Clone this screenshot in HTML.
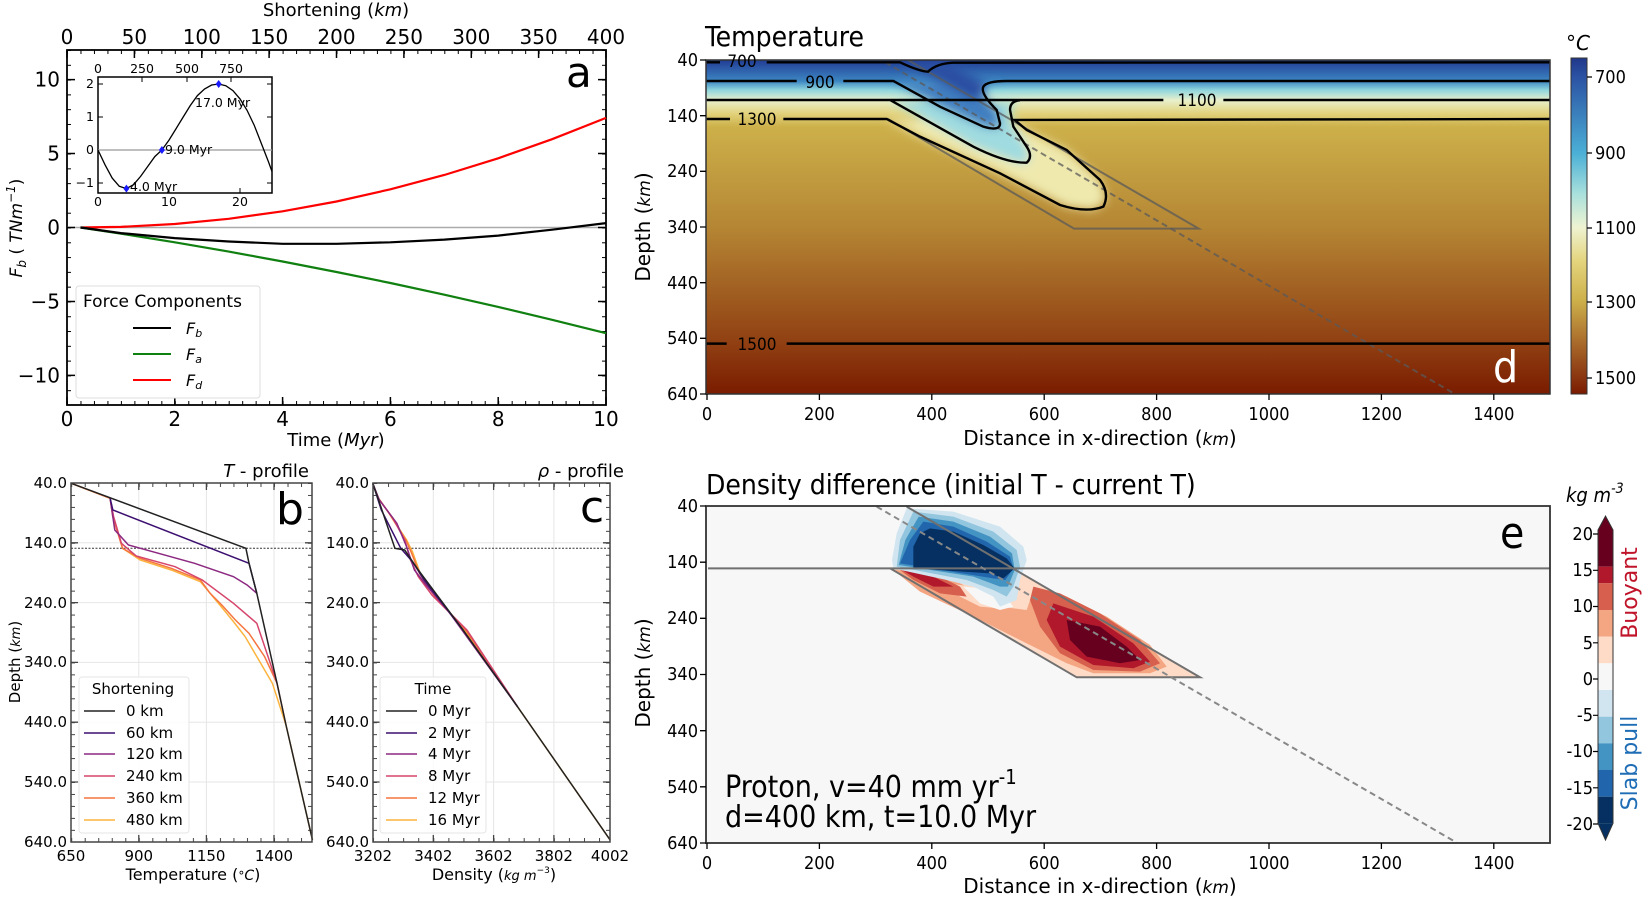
<!DOCTYPE html>
<html><head><meta charset="utf-8"><style>
html,body{margin:0;padding:0;background:#fff;}
svg{display:block;font-family:"DejaVu Sans","Liberation Sans",sans-serif;}
.c{font-family:"DejaVu Sans Condensed","Liberation Sans Narrow","DejaVu Sans",sans-serif;}
</style></head><body>
<svg width="1645" height="897" viewBox="0 0 1645 897" xmlns="http://www.w3.org/2000/svg">
<defs>
<pattern id="mbA" x="67" y="0" width="13.475" height="10" patternUnits="userSpaceOnUse"><rect width="1" height="10" fill="#000"/></pattern>
<pattern id="mtA" x="67" y="0" width="13.475" height="10" patternUnits="userSpaceOnUse"><rect width="1" height="10" fill="#000"/></pattern>
<pattern id="mlA" x="0" y="227.5" width="10" height="14.79" patternUnits="userSpaceOnUse"><rect width="10" height="1" fill="#000"/></pattern>
<pattern id="mlB" x="0" y="483" width="10" height="11.96" patternUnits="userSpaceOnUse"><rect width="10" height="1" fill="#444"/></pattern>
<pattern id="mbB" x="71.2" y="0" width="13.52" height="10" patternUnits="userSpaceOnUse"><rect width="1" height="10" fill="#444"/></pattern>
<pattern id="mbC" x="373" y="0" width="15.07" height="10" patternUnits="userSpaceOnUse"><rect width="1" height="10" fill="#444"/></pattern>
<linearGradient id="gT" x1="0" y1="60" x2="0" y2="394" gradientUnits="userSpaceOnUse">
<stop offset="0" stop-color="#1f3a8e"/><stop offset="0.006" stop-color="#24449a"/>
<stop offset="0.063" stop-color="#3c86c2"/><stop offset="0.09" stop-color="#8fd6de"/>
<stop offset="0.12" stop-color="#e8f0cc"/><stop offset="0.16" stop-color="#e2d27c"/>
<stop offset="0.2" stop-color="#cdb04a"/><stop offset="0.5" stop-color="#b58634"/>
<stop offset="0.85" stop-color="#903f12"/><stop offset="1" stop-color="#7a1c00"/>
</linearGradient>
<linearGradient id="gCB" x1="0" y1="60" x2="0" y2="394" gradientUnits="userSpaceOnUse">
<stop offset="0" stop-color="#223a8c"/><stop offset="0.05" stop-color="#2b52a3"/>
<stop offset="0.28" stop-color="#4bb0d6"/><stop offset="0.4" stop-color="#a8e0dc"/>
<stop offset="0.5" stop-color="#eef3d2"/><stop offset="0.6" stop-color="#e4d57e"/>
<stop offset="0.72" stop-color="#cdb04a"/><stop offset="0.85" stop-color="#a8692a"/>
<stop offset="0.95" stop-color="#8a3510"/><stop offset="1" stop-color="#7a1a00"/>
</linearGradient>
<filter id="bl" filterUnits="userSpaceOnUse" x="700" y="50" width="860" height="350"><feGaussianBlur stdDeviation="5"/></filter>
</defs>

<!-- ================= PANEL A ================= -->
<rect x="67" y="50" width="539" height="355" fill="#fff" stroke="#000" stroke-width="1.8"/>
<line x1="67" y1="227.5" x2="606" y2="227.5" stroke="#aaa" stroke-width="1.5"/>
<rect x="67" y="401" width="539" height="4" fill="url(#mbA)"/>
<rect x="67" y="50" width="539" height="4" fill="url(#mtA)"/>
<rect x="67" y="50" width="4" height="355" fill="url(#mlA)"/>
<rect x="602" y="50" width="4" height="355" fill="url(#mlA)"/>
<g stroke="#000" stroke-width="1.5">
<path d="M67 405v-8M174.8 405v-8M282.6 405v-8M390.4 405v-8M498.2 405v-8M606 405v-8"/>
<path d="M67 50v8M134.4 50v8M201.8 50v8M269.1 50v8M336.5 50v8M403.9 50v8M471.3 50v8M538.6 50v8M606 50v8"/>
<path d="M67 79.6h8M67 153.5h8M67 227.5h8M67 301.5h8M67 375.4h8M606 79.6h-8M606 153.5h-8M606 227.5h-8M606 301.5h-8M606 375.4h-8"/>
</g>
<g font-size="20" fill="#000" text-anchor="middle">
<text x="67" y="426">0</text><text x="174.8" y="426">2</text><text x="282.6" y="426">4</text><text x="390.4" y="426">6</text><text x="498.2" y="426">8</text><text x="606" y="426">10</text>
<text x="67" y="44">0</text><text x="134.4" y="44">50</text><text x="201.8" y="44">100</text><text x="269.1" y="44">150</text><text x="336.5" y="44">200</text><text x="403.9" y="44">250</text><text x="471.3" y="44">300</text><text x="538.6" y="44">350</text><text x="606" y="44">400</text>
<text x="336" y="446" font-size="18">Time (<tspan font-style="italic">Myr</tspan>)</text>
<text x="336" y="16" font-size="18">Shortening (<tspan font-style="italic">km</tspan>)</text>
</g>
<g font-size="20" text-anchor="end">
<text x="60" y="86.6">10</text><text x="60" y="160.5">5</text><text x="60" y="234.5">0</text><text x="60" y="308.5">−5</text><text x="60" y="382.4">−10</text>
</g>
<text transform="translate(22,228) rotate(-90)" font-size="17" text-anchor="middle" font-style="italic">F<tspan font-size="12" dy="4">b</tspan><tspan dy="-4" font-style="normal"> ( </tspan>TNm<tspan font-size="12" dy="-7">−1</tspan><tspan dy="7" font-style="normal">)</tspan></text>
<polyline fill="none" stroke="#f00" stroke-width="2.2" points="80.5,227.5 120.9,226.9 174.8,224 228.7,218.8 282.6,211.3 336.5,201.5 390.4,189.3 444.3,175 498.2,158.3 552.1,139.2 606,117.9"/>
<polyline fill="none" stroke="#108010" stroke-width="2.2" points="80.5,227.5 120.9,233.6 174.8,242.3 228.7,251.6 282.6,261.5 336.5,272 390.4,283 444.3,294.7 498.2,306.9 552.1,319.8 606,333.2"/>
<polyline fill="none" stroke="#000" stroke-width="2.2" points="80.5,227.5 120.9,233.1 174.8,238.1 228.7,241.5 282.6,243.8 336.5,243.8 390.4,242.3 444.3,239.6 498.2,235.6 552.1,229.7 606,223.1"/>
<text x="566" y="87" font-size="42">a</text>
<rect x="76" y="286" width="184" height="112" rx="3" fill="#fff" stroke="#ddd"/>
<text x="83" y="307" font-size="17">Force Components</text>
<line x1="133" y1="328" x2="171" y2="328" stroke="#000" stroke-width="2"/>
<line x1="133" y1="354" x2="171" y2="354" stroke="#108010" stroke-width="2"/>
<line x1="133" y1="380" x2="171" y2="380" stroke="#f00" stroke-width="2"/>
<g font-size="16" font-style="italic"><text x="186" y="334">F<tspan font-size="11" dy="3">b</tspan></text><text x="186" y="360">F<tspan font-size="11" dy="3">a</tspan></text><text x="186" y="386">F<tspan font-size="11" dy="3">d</tspan></text></g>
<rect x="98" y="77" width="174" height="116" fill="#fff" stroke="#000" stroke-width="1.5"/>
<line x1="98" y1="150" x2="272" y2="150" stroke="#999" stroke-width="1.2"/>
<polyline fill="none" stroke="#000" stroke-width="1.3" points="98,150 105.1,164.9 112.2,178.1 119.3,186.3 126.4,188.6 133.5,184.7 140.6,176.4 147.7,166.5 154.8,156.6 161.9,150 169,140.1 176.1,128.6 183.2,117 190.3,105.5 197.4,95.6 204.5,89 211.6,85 218.7,84 225.8,85.7 232.9,90.6 240,98.9 247.1,110.4 254.2,125.2 261.3,143.4 268.4,161.6 272,171.5"/>
<g fill="#1a1aff"><path d="M126.4 184.6l3 4-3 4-3-4z"/><path d="M161.9 146l3 4-3 4-3-4z"/><path d="M218.7 80l3 4-3 4-3-4z"/></g>
<g font-size="12.5">
<text x="130" y="191">4.0 Myr</text><text x="165" y="154">9.0 Myr</text><text x="195" y="107">17.0 Myr</text>
</g>
<g stroke="#000" stroke-width="1"><path d="M169 193v-5M240 193v-5M142 77v5M187 77v5M231 77v5M98 84h5M98 117h5M98 183h5M272 84h-5M272 117h-5M272 183h-5"/></g>
<g font-size="12.5" text-anchor="middle"><text x="98" y="206">0</text><text x="169" y="206">10</text><text x="240" y="206">20</text>
<text x="98" y="73">0</text><text x="142" y="73">250</text><text x="187" y="73">500</text><text x="231" y="73">750</text></g>
<g font-size="12.5" text-anchor="end"><text x="94" y="88">2</text><text x="94" y="121">1</text><text x="94" y="154">0</text><text x="94" y="187">−1</text></g>

<!-- ================= PANEL B/C ================= -->
<g stroke="#e6e6e6" stroke-width="1">
<path d="M138.8 483v359M206.4 483v359M274 483v359M71 542.8h241M71 602.6h241M71 662.4h241M71 722.2h241M71 782h241"/>
<path d="M433.3 483v359M493.6 483v359M553.9 483v359M373 542.8h237M373 602.6h237M373 662.4h237M373 722.2h237M373 782h237"/>
</g>
<rect x="71" y="483" width="4" height="359" fill="url(#mlB)"/>
<rect x="308" y="483" width="4" height="359" fill="url(#mlB)"/>
<rect x="71" y="838" width="241" height="4" fill="url(#mbB)"/>
<rect x="71" y="483" width="241" height="4" fill="url(#mbB)"/>
<rect x="373" y="483" width="4" height="359" fill="url(#mlB)"/>
<rect x="606" y="483" width="4" height="359" fill="url(#mlB)"/>
<rect x="373" y="838" width="237" height="4" fill="url(#mbC)"/>
<rect x="373" y="483" width="237" height="4" fill="url(#mbC)"/>
<line x1="71" y1="548.3" x2="312" y2="548.3" stroke="#333" stroke-width="1" stroke-dasharray="2,1.5"/>
<line x1="373" y1="548.3" x2="610" y2="548.3" stroke="#333" stroke-width="1" stroke-dasharray="2,1.5"/>
<g transform="translate(0,430) scale(0.3891,0.3333)" fill="none" stroke-width="1.5">
<polyline vector-effect="non-scaling-stroke" stroke="#fbb33e" points="183,160 283,205 290,260 315,355 360,390 440,420 515,455 540,490 565,525 600,575 630,620 660,680 700,760 735,885 803,1230"/>
<polyline vector-effect="non-scaling-stroke" stroke="#f5753f" points="183,160 283,205 290,260 315,355 360,385 440,415 515,450 540,490 570,525 605,570 640,610 680,680 712,760 735,885"/>
<polyline vector-effect="non-scaling-stroke" stroke="#d6456b" points="283,205 292,260 312,340 350,378 450,410 520,450 600,520 660,580 712,760"/>
<polyline vector-effect="non-scaling-stroke" stroke="#8c2981" points="283,205 295,300 330,345 500,400 600,440 635,465 660,490"/>
<polyline vector-effect="non-scaling-stroke" stroke="#3b0f70" points="283,205 290,240 640,400 660,490"/>
<polyline vector-effect="non-scaling-stroke" stroke="#222" points="183,160 632,355 640,400 660,490 685,620 712,760 735,885 803,1230"/>
<polyline vector-effect="non-scaling-stroke" stroke="#fbb33e" points="958,160 970,200 1000,250 1045,330 1060,365 1080,430 1120,500 1200,610 1330,830 1568,1230"/>
<polyline vector-effect="non-scaling-stroke" stroke="#f5753f" points="958,160 970,200 1000,250 1043,330 1058,370 1078,430 1118,500 1200,605 1330,830"/>
<polyline vector-effect="non-scaling-stroke" stroke="#d6456b" points="958,160 972,205 1010,265 1040,330 1055,390 1075,440 1110,495 1200,600 1330,830"/>
<polyline vector-effect="non-scaling-stroke" stroke="#8c2981" points="958,160 975,210 1020,280 1045,350 1065,420 1095,465 1150,540 1330,830"/>
<polyline vector-effect="non-scaling-stroke" stroke="#3b0f70" points="958,160 980,240 1030,355 1060,395 1090,450 1190,600 1330,830"/>
<polyline vector-effect="non-scaling-stroke" stroke="#222" points="958,160 970,200 1015,355 1040,360 1075,420 1190,600 1330,830 1568,1230"/>
</g>
<rect x="71" y="483" width="241" height="359" fill="none" stroke="#444" stroke-width="1.5"/>
<rect x="373" y="483" width="237" height="359" fill="none" stroke="#444" stroke-width="1.5"/>
<g stroke="#444" stroke-width="1.3"><path d="M71 542.8h7M71 602.6h7M71 662.4h7M71 722.2h7M71 782h7M312 542.8h-7M312 602.6h-7M312 662.4h-7M312 722.2h-7M312 782h-7M138.8 842v-7M206.4 842v-7M274 842v-7M138.8 483v7M206.4 483v7M274 483v7"/>
<path d="M373 542.8h7M373 602.6h7M373 662.4h7M373 722.2h7M373 782h7M610 542.8h-7M610 602.6h-7M610 662.4h-7M610 722.2h-7M610 782h-7M433.3 842v-7M493.6 842v-7M553.9 842v-7M433.3 483v7M493.6 483v7M553.9 483v7"/></g>
<g font-size="15" text-anchor="end">
<text x="67" y="488">40.0</text><text x="67" y="548">140.0</text><text x="67" y="608">240.0</text><text x="67" y="667">340.0</text><text x="67" y="727">440.0</text><text x="67" y="787">540.0</text><text x="67" y="847">640.0</text>
<text x="369" y="488">40.0</text><text x="369" y="548">140.0</text><text x="369" y="608">240.0</text><text x="369" y="667">340.0</text><text x="369" y="727">440.0</text><text x="369" y="787">540.0</text><text x="369" y="847">640.0</text>
</g>
<g font-size="15" text-anchor="middle">
<text x="71" y="861">650</text><text x="138.8" y="861">900</text><text x="206.4" y="861">1150</text><text x="274" y="861">1400</text>
<text x="373" y="861">3202</text><text x="433.3" y="861">3402</text><text x="493.6" y="861">3602</text><text x="553.9" y="861">3802</text><text x="610" y="861">4002</text>
<text x="193" y="880" font-size="16">Temperature (<tspan font-size="12">°</tspan><tspan font-style="italic" font-size="14">C</tspan>)</text>
<text x="494" y="880" font-size="16">Density (<tspan font-style="italic" font-size="13">kg m</tspan><tspan font-size="9" dy="-7">−3</tspan><tspan dy="7">)</tspan></text>
</g>
<text transform="translate(20,662) rotate(-90)" font-size="15" text-anchor="middle">Depth (<tspan font-style="italic" font-size="13">km</tspan>)</text>
<text x="309" y="477" font-size="18" text-anchor="end"><tspan font-style="italic">T</tspan> - profile</text>
<text x="624" y="477" font-size="18" text-anchor="end"><tspan font-style="italic">ρ</tspan> - profile</text>
<text x="276" y="524" font-size="44">b</text>
<text x="580" y="522" font-size="44">c</text>
<rect x="79" y="677" width="110" height="156" rx="3" fill="#fff" fill-opacity="0.85" stroke="#e6e6e6"/>
<text x="133" y="694" font-size="15" text-anchor="middle">Shortening</text>
<g stroke-width="1.6">
<line x1="84" y1="711" x2="115" y2="711" stroke="#222"/><line x1="84" y1="733" x2="115" y2="733" stroke="#3b0f70"/><line x1="84" y1="754" x2="115" y2="754" stroke="#8c2981"/><line x1="84" y1="776" x2="115" y2="776" stroke="#d6456b"/><line x1="84" y1="798" x2="115" y2="798" stroke="#f5753f"/><line x1="84" y1="820" x2="115" y2="820" stroke="#fbb33e"/>
</g>
<g font-size="15"><text x="126" y="716">0 km</text><text x="126" y="738">60 km</text><text x="126" y="759">120 km</text><text x="126" y="781">240 km</text><text x="126" y="803">360 km</text><text x="126" y="825">480 km</text></g>
<rect x="380" y="677" width="106" height="156" rx="3" fill="#fff" fill-opacity="0.85" stroke="#e6e6e6"/>
<text x="433" y="694" font-size="15" text-anchor="middle">Time</text>
<g stroke-width="1.6">
<line x1="386" y1="711" x2="417" y2="711" stroke="#222"/><line x1="386" y1="733" x2="417" y2="733" stroke="#3b0f70"/><line x1="386" y1="754" x2="417" y2="754" stroke="#8c2981"/><line x1="386" y1="776" x2="417" y2="776" stroke="#d6456b"/><line x1="386" y1="798" x2="417" y2="798" stroke="#f5753f"/><line x1="386" y1="820" x2="417" y2="820" stroke="#fbb33e"/>
</g>
<g font-size="15"><text x="428" y="716">0 Myr</text><text x="428" y="738">2 Myr</text><text x="428" y="759">4 Myr</text><text x="428" y="781">8 Myr</text><text x="428" y="803">12 Myr</text><text x="428" y="825">16 Myr</text></g>

<!-- ================= PANEL D ================= -->
<svg x="706" y="60" width="844" height="334" viewBox="706 60 844 334" overflow="hidden">
<rect x="706" y="60" width="844" height="334" fill="url(#gT)"/>
<g filter="url(#bl)">
<g transform="translate(600,0) scale(0.6667,0.3333)">
<path d="M430,357 L480,410 L600,520 L700,620 L740,630 L760,600 L750,540 L700,450 L640,390 L622,360 Z" fill="#efe9ae"/>
<path d="M435,300 L560,440 L630,490 L645,485 L640,440 L620,380 L615,330 L625,303 Z" fill="#9fdbe0"/>
<path d="M440,243 L510,320 L575,380 L600,385 L598,340 L575,280 L580,250 L610,243 Z" fill="#3f7ec0"/>
<path d="M440,190 L470,200 L560,300 L575,280 L580,250 L520,190 Z" fill="#2a4ea2"/>
</g>
</g>
<g transform="translate(600,0) scale(0.6667,0.3333)">
<g fill="none" stroke="#5a5a5a" stroke-width="2" stroke-opacity="0.75">
<path vector-effect="non-scaling-stroke" d="M455,172 L898,686 L711,686 L432,357"/>
<path vector-effect="non-scaling-stroke" d="M415,172 L1283,1183" stroke-dasharray="6,4"/>
</g>
<g fill="none" stroke="#000" stroke-width="2.4">
<path vector-effect="non-scaling-stroke" d="M160,187 L180,187 M250,187 L450,187 Q480,215 492,215 Q505,190 530,188 L1425,187"/>
<path vector-effect="non-scaling-stroke" d="M160,243 L295,243 M365,243 L440,243 L510,320 L575,380 Q600,395 600,370 L595,330 Q570,280 575,260 Q580,243 610,243 L1425,243"/>
<path vector-effect="non-scaling-stroke" d="M160,300 L845,300 M935,300 L1425,300 M160,300 L435,300 L560,440 Q610,490 640,488 Q650,470 640,440 L620,380 L615,330 Q615,303 630,301"/>
<path vector-effect="non-scaling-stroke" d="M160,357 L195,357 M275,357 L430,357 L480,410 L600,520 L690,615 Q730,640 755,620 Q765,580 750,540 L700,450 L640,390 L622,360 L1425,357"/>
<path vector-effect="non-scaling-stroke" d="M160,1031 L190,1031 M280,1031 L1425,1031"/>
</g>
</g>
</svg>
<rect x="706" y="60" width="844" height="334" fill="none" stroke="#333" stroke-width="1.5"/>
<g class="c" font-size="17">
<text x="742" y="67" text-anchor="middle">700</text>
<text x="820" y="88" text-anchor="middle">900</text>
<text x="1197" y="106" text-anchor="middle">1100</text>
<text x="757" y="125" text-anchor="middle">1300</text>
<text x="757" y="350" text-anchor="middle">1500</text>
</g>
<text x="1493" y="382" font-size="44" fill="#fff" class="c">d</text>
<g stroke="#000" stroke-width="1.3"><path d="M707 394v6M819.4 394v6M931.8 394v6M1044.2 394v6M1156.6 394v6M1269 394v6M1381.4 394v6M1493.8 394v6M706 60h-6M706 115.7h-6M706 171.3h-6M706 227h-6M706 282.7h-6M706 338.3h-6M706 394h-6"/></g>
<g class="c" font-size="18" text-anchor="middle">
<text x="707" y="420">0</text><text x="819.4" y="420">200</text><text x="931.8" y="420">400</text><text x="1044.2" y="420">600</text><text x="1156.6" y="420">800</text><text x="1269" y="420">1000</text><text x="1381.4" y="420">1200</text><text x="1493.8" y="420">1400</text>
</g>
<g class="c" font-size="18" text-anchor="end">
<text x="698" y="66">40</text><text x="698" y="122">140</text><text x="698" y="177">240</text><text x="698" y="233">340</text><text x="698" y="289">440</text><text x="698" y="344">540</text><text x="698" y="400">640</text>
</g>
<text x="1100" y="445" font-size="20" text-anchor="middle">Distance in x-direction (<tspan font-style="italic" font-size="17">km</tspan>)</text>
<text transform="translate(650,227) rotate(-90)" font-size="20" text-anchor="middle">Depth (<tspan font-style="italic" font-size="17">km</tspan>)</text>
<text x="705" y="46" font-size="28" class="c">Temperature</text>
<rect x="1571" y="58" width="16" height="336" fill="url(#gCB)" stroke="#333" stroke-width="1"/>
<g stroke="#000" stroke-width="1.2"><path d="M1587 77h5M1587 153h5M1587 228h5M1587 302h5M1587 378h5"/></g>
<g class="c" font-size="18"><text x="1595" y="83">700</text><text x="1595" y="159">900</text><text x="1595" y="234">1100</text><text x="1595" y="308">1300</text><text x="1595" y="384">1500</text></g>
<text x="1566" y="50" font-size="20">°<tspan font-style="italic">C</tspan></text>

<!-- ================= PANEL E ================= -->
<svg x="706" y="506" width="844" height="337" viewBox="706 506 844 337" overflow="hidden">
<rect x="706" y="506" width="844" height="337" fill="#f7f7f7"/>
<g transform="translate(600,440) scale(0.6667,0.3333)">
<path d="M435,385 L620,385 L900,712 L715,712 Z" fill="#fddbc7"/>
<path d="M445,390 L520,410 L560,450 L600,500 L640,510 L650,450 L700,470 L760,530 L825,615 L850,680 L825,700 L740,700 L700,670 L640,610 L560,530 L480,455 L440,390 Z" fill="#f4a582"/>
<path d="M520,430 L560,440 L590,470 L600,505 L570,500 L540,470 Z" fill="#fddbc7"/>
<path d="M545,440 L600,450 L620,500 L600,510 L570,490 Z" fill="#f7f7f7"/>
<path d="M450,390 L500,400 L540,440 L550,470 L510,460 L470,420 Z" fill="#d6604d"/>
<path d="M650,440 L690,460 L750,520 L810,600 L840,670 L810,695 L740,690 L690,640 L660,560 L645,480 Z" fill="#d6604d"/>
<path d="M455,392 L490,400 L530,440 L500,440 L470,410 Z" fill="#b2182b"/>
<path d="M680,490 L740,530 L800,610 L825,665 L800,685 L740,675 L690,620 L670,540 Z" fill="#b2182b"/>
<path d="M700,540 L750,560 L790,620 L810,660 L780,670 L730,650 L705,600 Z" fill="#67001f"/>
<path d="M460,205 L530,215 L600,260 L635,320 L640,360 L630,420 L625,480 L600,500 L590,470 L560,440 L520,420 L440,385 L438,360 L445,280 Z" fill="#d1e5f0"/>
<path d="M470,215 L530,230 L590,275 L625,330 L630,380 L620,440 L610,470 L590,450 L550,420 L445,380 L450,300 Z" fill="#92c5de"/>
<path d="M478,230 L530,245 L585,290 L618,340 L622,390 L612,440 L600,440 L560,410 L448,375 L458,300 Z" fill="#4393c3"/>
<path d="M485,245 L530,260 L580,305 L615,350 L620,385 L608,420 L590,415 L450,370 L465,300 Z" fill="#2166ac"/>
<path d="M495,265 L530,275 L575,315 L610,355 L622,385 L605,415 L585,400 L470,385 L470,320 L480,280 Z" fill="#053061"/>
<g fill="none" stroke="#707070" stroke-width="2">
<path vector-effect="non-scaling-stroke" d="M460,200 L900,712 L715,712 L435,385 M162,385 L1425,385"/>
<path vector-effect="non-scaling-stroke" d="M415,200 L1285,1208" stroke-dasharray="6,4" stroke="#888"/>
</g>
</g>
</svg>
<rect x="706" y="506" width="844" height="337" fill="none" stroke="#333" stroke-width="1.8"/>
<text x="1500" y="548" font-size="44" class="c">e</text>
<text x="725" y="797" font-size="30" class="c">Proton, v=40 mm yr<tspan font-size="20" dy="-13">-1</tspan></text>
<text x="725" y="827" font-size="30" class="c">d=400 km, t=10.0 Myr</text>
<g stroke="#000" stroke-width="1.3"><path d="M707 843v6M819.4 843v6M931.8 843v6M1044.2 843v6M1156.6 843v6M1269 843v6M1381.4 843v6M1493.8 843v6M706 506h-6M706 562.2h-6M706 618.3h-6M706 674.5h-6M706 730.7h-6M706 786.8h-6M706 843h-6"/></g>
<g class="c" font-size="18" text-anchor="middle">
<text x="707" y="869">0</text><text x="819.4" y="869">200</text><text x="931.8" y="869">400</text><text x="1044.2" y="869">600</text><text x="1156.6" y="869">800</text><text x="1269" y="869">1000</text><text x="1381.4" y="869">1200</text><text x="1493.8" y="869">1400</text>
</g>
<g class="c" font-size="18" text-anchor="end">
<text x="698" y="512">40</text><text x="698" y="568">140</text><text x="698" y="624">240</text><text x="698" y="680">340</text><text x="698" y="737">440</text><text x="698" y="793">540</text><text x="698" y="849">640</text>
</g>
<text x="1100" y="893" font-size="20" text-anchor="middle">Distance in x-direction (<tspan font-style="italic" font-size="17">km</tspan>)</text>
<text transform="translate(650,673) rotate(-90)" font-size="20" text-anchor="middle">Depth (<tspan font-style="italic" font-size="17">km</tspan>)</text>
<text x="706" y="494" font-size="28" class="c">Density difference  (initial T - current T)</text>
<path d="M1598 530 L1605.5 516 L1613 530 Z" fill="#67001f"/>
<path d="M1598 823.3 L1605.5 840 L1613 823.3 Z" fill="#053061"/>
<rect x="1598" y="530" width="15" height="36.7" fill="#67001f"/>
<rect x="1598" y="566.7" width="15" height="16.6" fill="#b2182b"/>
<rect x="1598" y="583.3" width="15" height="26.7" fill="#d6604d"/>
<rect x="1598" y="610" width="15" height="26.7" fill="#f4a582"/>
<rect x="1598" y="636.7" width="15" height="26.6" fill="#fddbc7"/>
<rect x="1598" y="663.3" width="15" height="26.7" fill="#f7f7f7"/>
<rect x="1598" y="690" width="15" height="26.7" fill="#d1e5f0"/>
<rect x="1598" y="716.7" width="15" height="26.6" fill="#92c5de"/>
<rect x="1598" y="743.3" width="15" height="26.7" fill="#4393c3"/>
<rect x="1598" y="770" width="15" height="26.7" fill="#2166ac"/>
<rect x="1598" y="796.7" width="15" height="26.6" fill="#053061"/>
<path d="M1598 530 L1605.5 516 L1613 530 L1613 823.3 L1605.5 840 L1598 823.3 Z" fill="none" stroke="#333" stroke-width="1"/>
<g stroke="#000" stroke-width="1.2"><path d="M1598 534h-5M1598 570.3h-5M1598 606.5h-5M1598 642.8h-5M1598 679h-5M1598 715.3h-5M1598 751.5h-5M1598 787.8h-5M1598 824h-5"/></g>
<g class="c" font-size="18" text-anchor="end">
<text x="1593" y="540">20</text><text x="1593" y="576">15</text><text x="1593" y="612">10</text><text x="1593" y="649">5</text><text x="1593" y="685">0</text><text x="1593" y="721">-5</text><text x="1593" y="757">-10</text><text x="1593" y="794">-15</text><text x="1593" y="830">-20</text>
</g>
<text x="1566" y="502" font-size="20" font-style="italic" class="c">kg m<tspan font-size="14" dy="-9">-3</tspan></text>
<text transform="translate(1637,593) rotate(-90)" font-size="22" fill="#c0142a" text-anchor="middle">Buoyant</text>
<text transform="translate(1637,763) rotate(-90)" font-size="22" fill="#1f6db5" text-anchor="middle">Slab pull</text>
</svg>
</body></html>
